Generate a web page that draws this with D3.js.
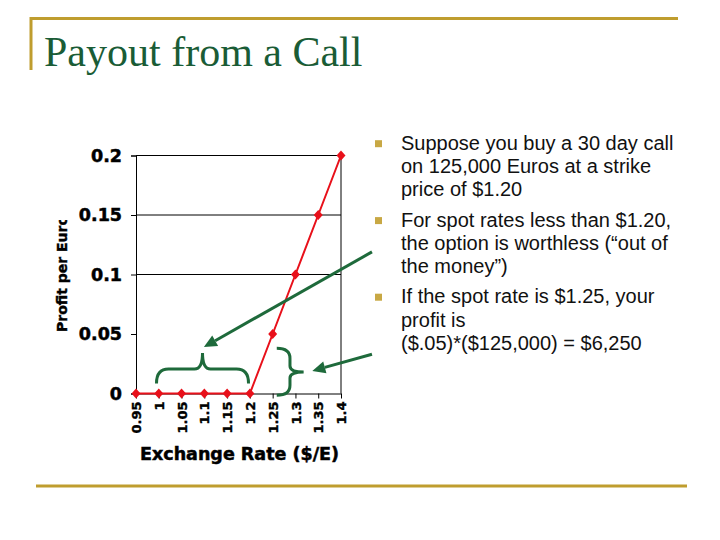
<!DOCTYPE html>
<html>
<head>
<meta charset="utf-8">
<script src="https://cdn.jsdelivr.net/npm/d3@7"></script>
<style>
  body { margin: 0; background: #fff; }
  svg { display: block; }
</style>
</head>
<body>
<div id="slide"></div>
<script>
// chart data
const rates = ['0.95', '1', '1.05', '1.1', '1.15', '1.2', '1.25', '1.3', '1.35', '1.4'];
const profit = [0, 0, 0, 0, 0, 0, 0.05, 0.1, 0.15, 0.2];
const yTicks = [0, 0.05, 0.1, 0.15, 0.2];
const gridTicks = [0.1, 0.15, 0.2];
const bullets = [
  ['Suppose you buy a 30 day call', 'on 125,000 Euros at a strike', 'price of $1.20'],
  ['For spot rates less than $1.20,', 'the option is worthless (\u201cout of', 'the money\u201d)'],
  ['If the spot rate is $1.25, your', 'profit is', '($.05)*($125,000) = $6,250']
];

const w = 720;
const h = 540;
const gold = '#bf9d2e';
const green = '#1e6a3b';
const red = '#e8101a';

const svg = d3.select('#slide').append('svg')
  .attr('width', w)
  .attr('height', h);

// slide frame lines
svg.append('line').attr('x1', 30).attr('x2', 678).attr('y1', 18.5).attr('y2', 18.5)
  .attr('stroke', gold).attr('stroke-width', 3);
svg.append('line').attr('x1', 31).attr('x2', 31).attr('y1', 17).attr('y2', 70)
  .attr('stroke', gold).attr('stroke-width', 3);
svg.append('line').attr('x1', 36).attr('x2', 687).attr('y1', 486).attr('y2', 486)
  .attr('stroke', gold).attr('stroke-width', 3);

svg.append('text')
  .attr('x', 44).attr('y', 66)
  .attr('font-family', '"Liberation Serif", "Times New Roman", serif')
  .attr('font-size', 42)
  .attr('fill', '#1a5c36')
  .text('Payout from a Call');

// scales
const x = d3.scalePoint().domain(rates).range([136, 341]);
const xLin = d3.scaleLinear().domain([0.95, 1.4]).range([136, 341]);
const y = d3.scaleLinear().domain([0, 0.2]).range([393.5, 155.5]);

const chartFont = '"DejaVu Sans", Verdana, sans-serif';

// gridlines and right border
svg.append('g').selectAll('line').data(gridTicks).enter().append('line')
  .attr('x1', x.range()[0]).attr('x2', x.range()[1])
  .attr('y1', d => y(d)).attr('y2', d => y(d))
  .attr('stroke', '#000').attr('stroke-width', 1);
svg.append('line')
  .attr('x1', x.range()[1]).attr('x2', x.range()[1])
  .attr('y1', y(0.2)).attr('y2', y(0))
  .attr('stroke', '#000');

// y axis
const yAxis = svg.append('g')
  .attr('transform', 'translate(' + x.range()[0] + ',0)')
  .call(d3.axisLeft(y).tickValues(yTicks).tickSize(5).tickPadding(9).tickFormat(d => String(d)));
yAxis.select('.domain').attr('stroke', '#000');
yAxis.selectAll('text')
  .attr('font-family', chartFont).attr('font-weight', 'bold').attr('font-size', 17.5).attr('fill', '#000')
  .attr('stroke', '#000').attr('stroke-width', 0.5);

// x axis
const xAxis = svg.append('g')
  .attr('transform', 'translate(0,' + y(0) + ')')
  .call(d3.axisBottom(x).tickSize(5).tickSizeOuter(0));
xAxis.select('.domain').attr('stroke', '#000');
xAxis.selectAll('text')
  .attr('font-family', chartFont).attr('font-weight', 'bold').attr('font-size', 13).attr('fill', '#000')
  .attr('stroke', '#000').attr('stroke-width', 0.4)
  .attr('transform', 'rotate(-90)')
  .attr('text-anchor', 'end')
  .attr('x', -8).attr('y', 0).attr('dy', '0.35em');

// axis titles
svg.append('text')
  .attr('x', (x.range()[0] + x.range()[1]) / 2 + 1).attr('y', 460)
  .attr('text-anchor', 'middle')
  .attr('font-family', chartFont).attr('font-weight', 'bold').attr('font-size', 17.5)
  .attr('stroke', '#000').attr('stroke-width', 0.5)
  .text('Exchange Rate ($/E)');

svg.append('clipPath').attr('id', 'ytitle-clip')
  .append('rect').attr('x', 40).attr('y', 220).attr('width', 40).attr('height', 200);
svg.append('g')
  .attr('clip-path', 'url(#ytitle-clip)')
  .append('text')
  .attr('transform', 'translate(67,332) rotate(-90)')
  .attr('font-family', chartFont).attr('font-weight', 'bold').attr('font-size', 14)
  .attr('stroke', '#000').attr('stroke-width', 0.4)
  .text('Profit per Euro');

// braces (annotations)
const b1x0 = xLin(0.995), b1x1 = xLin(1.197), b1mid = (b1x0 + b1x1) / 2;
const b1end = y(0.0085), b1flat = y(0.0205), b1tip = y(0.034);
svg.append('path')
  .attr('d', 'M' + b1x0 + ',' + b1end +
    ' Q' + b1x0 + ',' + b1flat + ' ' + (b1x0 + 12) + ',' + b1flat +
    ' L' + (b1mid - 8) + ',' + b1flat +
    ' Q' + b1mid + ',' + b1flat + ' ' + b1mid + ',' + b1tip +
    ' Q' + b1mid + ',' + b1flat + ' ' + (b1mid + 8) + ',' + b1flat +
    ' L' + (b1x1 - 12) + ',' + b1flat +
    ' Q' + b1x1 + ',' + b1flat + ' ' + b1x1 + ',' + b1end)
  .attr('fill', 'none').attr('stroke', green).attr('stroke-width', 3);

const b2end = xLin(1.259), b2flat = xLin(1.288), b2tip = xLin(1.318);
const b2top = y(0.038), b2mid = y(0.018), b2bot = y(-0.0015);
svg.append('path')
  .attr('d', 'M' + b2end + ',' + b2top +
    ' Q' + b2flat + ',' + b2top + ' ' + b2flat + ',' + (b2top + 10) +
    ' L' + b2flat + ',' + (b2mid - 6) +
    ' Q' + b2flat + ',' + b2mid + ' ' + b2tip + ',' + b2mid +
    ' Q' + b2flat + ',' + b2mid + ' ' + b2flat + ',' + (b2mid + 6) +
    ' L' + b2flat + ',' + (b2bot - 10) +
    ' Q' + b2flat + ',' + b2bot + ' ' + b2end + ',' + b2bot)
  .attr('fill', 'none').attr('stroke', green).attr('stroke-width', 3);

// payout line and markers
const pts = rates.map((r, i) => [x(r), y(profit[i])]);
svg.append('path')
  .attr('d', d3.line()(pts))
  .attr('fill', 'none').attr('stroke', red).attr('stroke-width', 2);
svg.selectAll('.marker').data(pts).enter().append('path')
  .attr('class', 'marker')
  .attr('transform', d => 'translate(' + d[0] + ',' + d[1] + ')')
  .attr('d', 'M0,-5L4.5,0L0,5L-4.5,0Z')
  .attr('fill', red);

// bullet text
const textX = 401;
const lineH = 23.3;
let lineY = 149.7;
bullets.forEach((lines, bi) => {
  svg.append('rect')
    .attr('x', 375).attr('y', lineY - 9.5)
    .attr('width', 7).attr('height', 7)
    .attr('fill', '#c8a844');
  lines.forEach((t, li) => {
    svg.append('text')
      .attr('x', textX).attr('y', lineY)
      .attr('font-family', '"Liberation Sans", Arial, sans-serif')
      .attr('font-size', 20)
      .attr('fill', '#111')
      .text(t);
    lineY += lineH;
  });
  if (bi === 0) lineY += 7;
  if (bi === 1) lineY += 6.7;
});

// arrows pointing from the text to the chart
const arrows = [
  { from: [1.468, 0.119], to: [1.099, 0.039] },
  { from: [1.468, 0.033], to: [1.337, 0.019] }
];
arrows.forEach(a => {
  const x0 = xLin(a.from[0]), y0 = y(a.from[1]);
  const x1 = xLin(a.to[0]), y1 = y(a.to[1]);
  const ang = Math.atan2(y1 - y0, x1 - x0);
  const len = 13, half = 6;
  const bx = x1 - len * Math.cos(ang), by = y1 - len * Math.sin(ang);
  svg.append('line')
    .attr('x1', x0).attr('y1', y0).attr('x2', bx).attr('y2', by)
    .attr('stroke', green).attr('stroke-width', 3);
  svg.append('path')
    .attr('d', 'M' + x1 + ',' + y1 +
      'L' + (bx + half * Math.sin(ang)) + ',' + (by - half * Math.cos(ang)) +
      'L' + (bx - half * Math.sin(ang)) + ',' + (by + half * Math.cos(ang)) + 'Z')
    .attr('fill', green);
});
</script>
</body>
</html>
